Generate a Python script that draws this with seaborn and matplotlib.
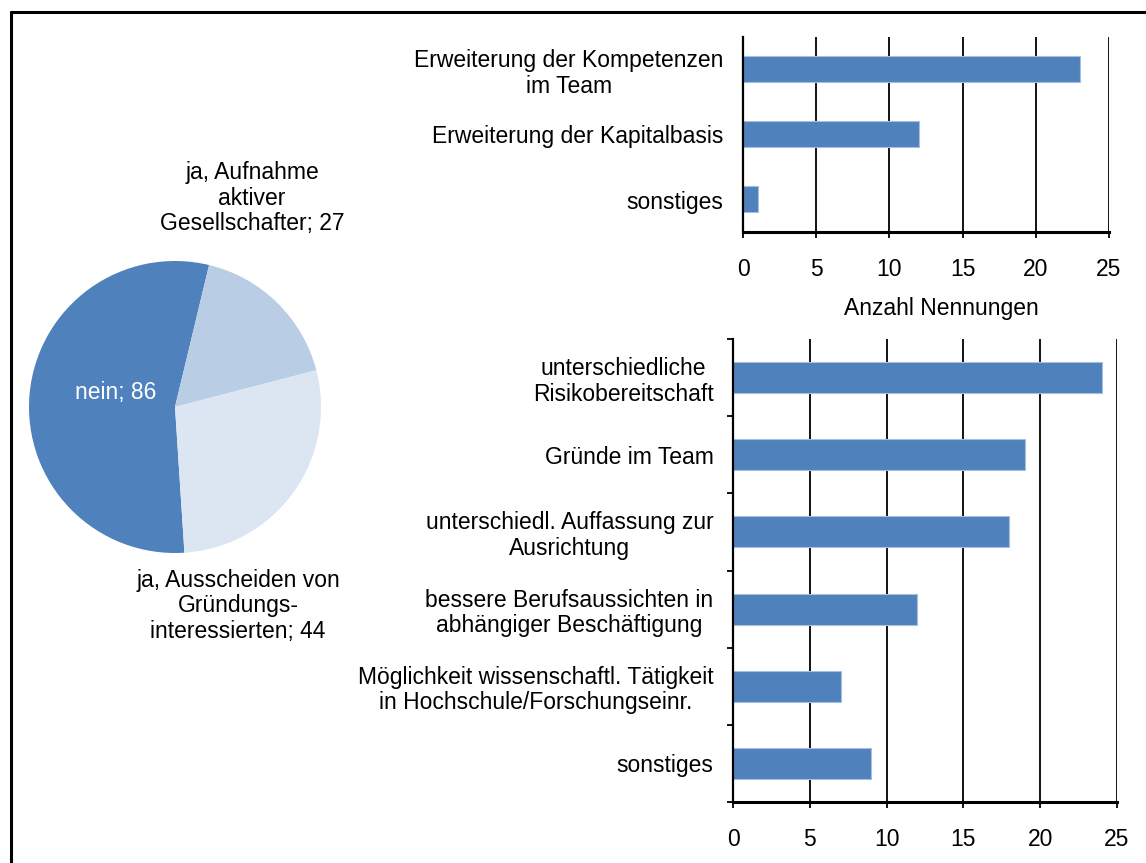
import matplotlib
matplotlib.use("Agg")
import matplotlib.pyplot as plt
from matplotlib.lines import Line2D
import numpy as np
import seaborn as sns

# pie: changes in the founding team
pie_labels = ["nein; 86", "ja, Aufnahme\naktiver\nGesellschafter; 27",
              "ja, Ausscheiden von\nGründungs-\ninteressierten; 44"]
pie_values = [86, 27, 44]
pie_colors = ["#4F81BD", "#B9CDE5", "#DCE6F2"]

# top bars: reasons for taking in partners
top_cats = ["Erweiterung der Kompetenzen\nim Team", "Erweiterung der Kapitalbasis", "sonstiges"]
top_vals = [23, 12, 1]

# bottom bars: reasons for leaving
bot_cats = ["unterschiedliche\nRisikobereitschaft", "Gründe im Team",
            "unterschiedl. Auffassung zur\nAusrichtung",
            "bessere Berufsaussichten in\nabhängiger Beschäftigung",
            "Möglichkeit wissenschaftl. Tätigkeit\nin Hochschule/Forschungseinr.",
            "sonstiges"]
bot_vals = [24, 19, 18, 12, 7, 9]

x_ticks = [0, 5, 10, 15, 20, 25]
bar_color = "#4F81BD"

sns.set_style("white")
plt.rcParams["font.family"] = ["Liberation Sans", "DejaVu Sans"]
plt.rcParams["font.size"] = 16.5
plt.rcParams["text.color"] = "black"
plt.rcParams["xtick.color"] = "black"
plt.rcParams["ytick.color"] = "black"
plt.rcParams["axes.labelcolor"] = "black"

W, H = 1146, 863
fig = plt.figure(figsize=(W / 100, H / 100), dpi=100)


def px_rect(left, top, right, bottom):
    return [left / W, 1 - bottom / H, (right - left) / W, (bottom - top) / H]


# frame around the whole chart (cut off on the right/bottom)
fig.add_artist(Line2D([11 / W, 11 / W], [0, 1 - 12 / H], color="black", lw=2.2))
fig.add_artist(Line2D([11 / W, 1], [1 - 12 / H, 1 - 12 / H], color="black", lw=2.2))

# ---- pie ----
cx, cy, r = 175, 407, 146
ax_pie = fig.add_axes(px_rect(cx - r, cy - r, cx + r, cy + r))
ax_pie.pie(pie_values, colors=pie_colors, startangle=273.7, counterclock=False,
           radius=1, wedgeprops=dict(linewidth=0))
ax_pie.set_xlim(-1, 1)
ax_pie.set_ylim(-1, 1)
ax_pie.set_aspect("equal")
ax_pie.axis("off")
ax_pie.text(-0.404, 0.096, pie_labels[0], color="white", ha="center", va="center")
ax_pie.text(0.527, 1.43, pie_labels[1], ha="center", va="center", linespacing=1.15)
ax_pie.text(0.432, -1.363, pie_labels[2], ha="center", va="center", linespacing=1.15)


def style_bar_axes(ax, cats, boundary_ticks):
    ax.set_xlim(0, 25)
    ax.set_xticks(x_ticks)
    ax.set_ylim(len(cats) - 0.5, -0.5)
    ax.grid(axis="x", color="black", lw=1.3)
    ax.set_axisbelow(True)
    for s in ["top", "right"]:
        ax.spines[s].set_visible(False)
    ax.spines["left"].set_color("black")
    ax.spines["left"].set_linewidth(1.6)
    ax.spines["bottom"].set_color("black")
    ax.spines["bottom"].set_linewidth(2.2)
    ax.tick_params(axis="x", bottom=True, length=4.5, width=1.3, color="black",
                   direction="out", pad=14, labelsize=16.5)
    ax.tick_params(axis="y", left=False, length=0, pad=14, labelsize=16.5)
    for t in ax.get_yticklabels():
        t.set_multialignment("center")
        t.set_linespacing(1.15)
    if boundary_ticks:
        ax.set_yticks(np.arange(len(cats) + 1) - 0.5, minor=True)
        ax.tick_params(axis="y", which="minor", left=True, length=4.5, width=1.3,
                       color="black", direction="out")
    ax.set_ylabel("")


# ---- top bars ----
ax_top = fig.add_axes(px_rect(743, 37, 1109, 232))
sns.barplot(x=top_vals, y=top_cats, orient="h", color=bar_color, width=0.4,
            saturation=1, edgecolor="#A7BFDE", linewidth=0.8, ax=ax_top)
style_bar_axes(ax_top, top_cats, False)
ax_top.set_xlabel("Anzahl Nennungen", fontsize=16.5)
ax_top.xaxis.set_label_coords((941 - 743) / 366, (232 - 308) / 195)
ax_top.xaxis.label.set_va("center")

# ---- bottom bars ----
ax_bot = fig.add_axes(px_rect(733, 339, 1117, 802))
sns.barplot(x=bot_vals, y=bot_cats, orient="h", color=bar_color, width=0.4,
            saturation=1, edgecolor="#A7BFDE", linewidth=0.8, ax=ax_bot)
style_bar_axes(ax_bot, bot_cats, True)
ax_bot.set_xlabel("")

fig.savefig("out.png", dpi=100)
